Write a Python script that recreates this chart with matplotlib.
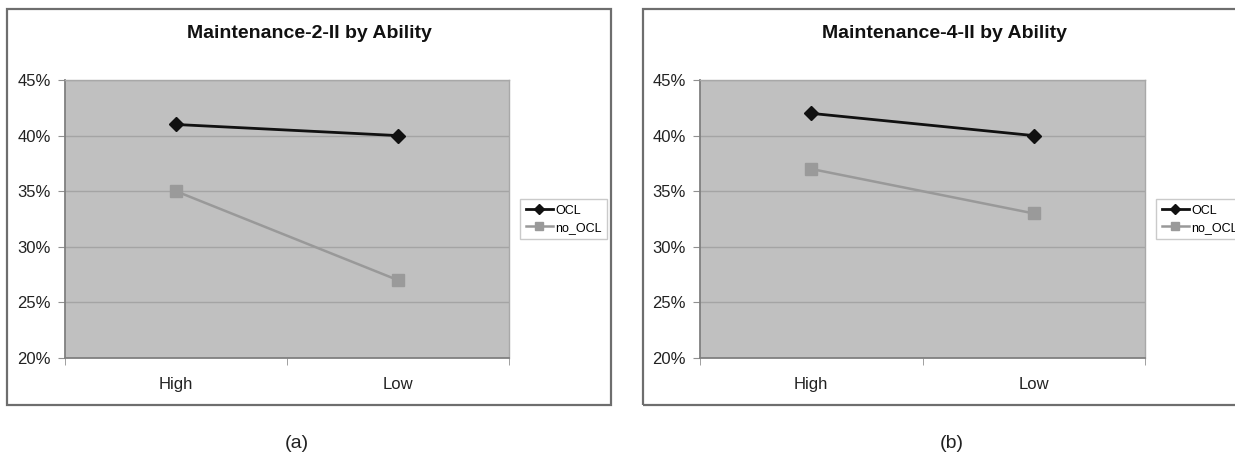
import matplotlib
matplotlib.use("Agg")
import matplotlib.pyplot as plt
from matplotlib.patches import Rectangle
from matplotlib.ticker import FuncFormatter, FixedLocator

plt.rcParams['font.family'] = ['Liberation Sans', 'DejaVu Sans']

categories = ["High", "Low"]
series_names = ["OCL", "no_OCL"]
titles = ["Maintenance-2-II by Ability", "Maintenance-4-II by Ability"]
captions = ["(a)", "(b)"]
ocl_a = [41, 40]
no_ocl_a = [35, 27]
ocl_b = [42, 40]
no_ocl_b = [37, 33]
yticks = [20, 25, 30, 35, 40, 45]

W, H = 1235, 455
fig = plt.figure(figsize=(W / 100, H / 100), dpi=100)

def fx(px):
    return px / W

def fy(py):
    return 1 - py / H

panels = [
    dict(box=(7, 9, 611, 405), ax=(65, 80, 509, 358), leg=(520, 199), cap=297,
         data=(ocl_a, no_ocl_a), title=titles[0], caption=captions[0]),
    dict(box=(643, 9, 1245, 405), ax=(700, 80, 1145, 358), leg=(1156, 199), cap=952,
         data=(ocl_b, no_ocl_b), title=titles[1], caption=captions[1]),
]

for p in panels:
    bx0, by0, bx1, by1 = p['box']
    fig.patches.append(Rectangle((fx(bx0), fy(by1)), fx(bx1 - bx0), (by1 - by0) / H,
                                 transform=fig.transFigure, fill=False,
                                 edgecolor='#6e6e6e', linewidth=1.6, zorder=0))
    x0, y0, x1, y1 = p['ax']
    ax = fig.add_axes([fx(x0), fy(y1), fx(x1 - x0), (y1 - y0) / H])
    ax.set_facecolor('#c0c0c0')
    xs = list(range(len(categories)))
    ocl, nocl = p['data']
    l1, = ax.plot(xs, ocl, color='#111111', lw=2.0, marker='D', markersize=7,
                  markerfacecolor='#111111', markeredgecolor='#111111', zorder=4,
                  label=series_names[0])
    l2, = ax.plot(xs, nocl, color='#999999', lw=1.8, marker='s', markersize=8,
                  markerfacecolor='#9a9a9a', markeredgecolor='#9a9a9a', zorder=3,
                  label=series_names[1])
    ax.set_xlim(-0.5, len(categories) - 0.5)
    ax.set_ylim(20, 45)
    ax.set_yticks(yticks)
    ax.yaxis.set_major_formatter(FuncFormatter(lambda v, _: f"{v:.0f}%"))
    ax.yaxis.grid(True, color='#a4a4a4', lw=1.0)
    ax.set_axisbelow(True)
    ax.set_xticks(xs)
    ax.set_xticklabels(categories)
    ax.xaxis.set_minor_locator(FixedLocator([-0.5, 0.5, 1.5]))
    ax.tick_params(axis='x', which='major', length=0, pad=14, labelsize=12, labelcolor='#222222')
    ax.tick_params(axis='x', which='minor', length=5, color='#909090', direction='out')
    ax.tick_params(axis='y', length=5, color='#909090', pad=5, labelsize=12, labelcolor='#222222')
    for s in ['top', 'right']:
        ax.spines[s].set_color('#a8a8a8')
        ax.spines[s].set_linewidth(1.0)
    for s in ['left', 'bottom']:
        ax.spines[s].set_color('#808080')
        ax.spines[s].set_linewidth(1.3)
    fig.text(fx((x0 + x1) / 2 + 22), fy(33), p['title'], ha='center', va='center',
             fontsize=14, fontweight='bold', color='#111111')
    fig.text(fx(p['cap']), fy(443), p['caption'], ha='center', va='center',
             fontsize=14, color='#222222')
    lx, ly = p['leg']
    fig.legend(handles=[l1, l2], labels=series_names, loc='upper left',
               bbox_to_anchor=(fx(lx), fy(ly)), bbox_transform=fig.transFigure,
               frameon=True, fancybox=False, edgecolor='#bdbdbd', fontsize=9,
               handlelength=2.2, handletextpad=0.15, borderpad=0.45, labelspacing=0.4,
               markerscale=0.7, borderaxespad=0)

fig.savefig("out.png", dpi=100, facecolor='white')
